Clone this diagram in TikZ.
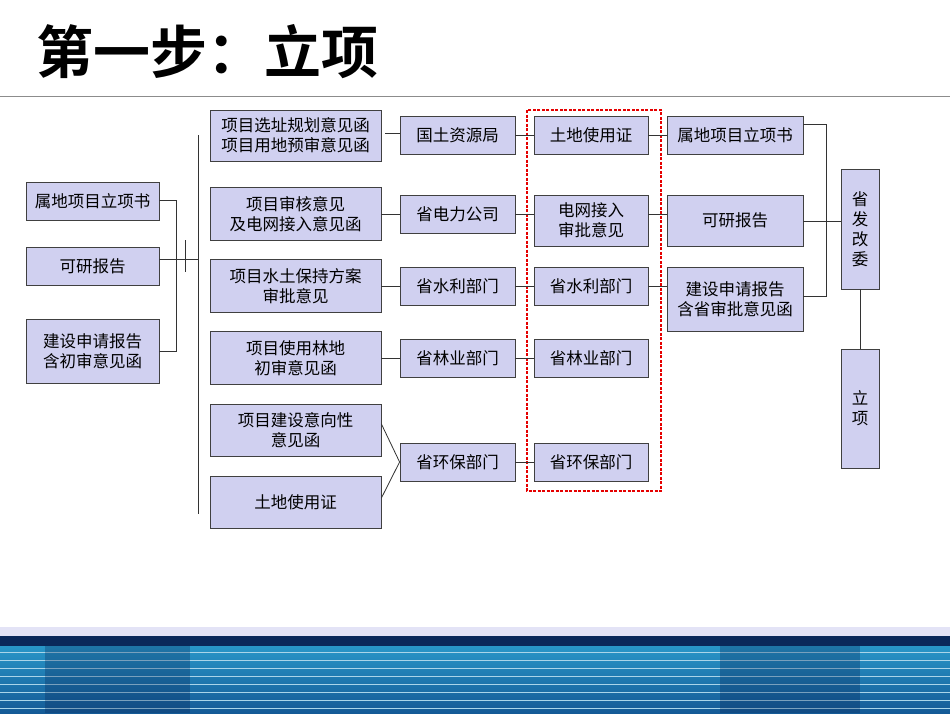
\documentclass[tikz,border=0pt]{standalone}
\usepackage{fontspec}
\setmainfont{Noto Sans CJK SC}
\newfontfamily\titlefont{Noto Sans CJK SC Bold}
\begin{document}
\begin{tikzpicture}[x=1pt,y=-1pt,
  box/.style={draw=black!75,fill=boxc,line width=0.8pt,inner sep=0pt,align=center,font=\fontsize{16.5}{20}\selectfont},
  ln/.style={draw=black!80,line width=0.8pt}]
\definecolor{boxc}{RGB}{208,208,240}
\definecolor{bandA}{RGB}{10,40,90}
\definecolor{bandB}{RGB}{40,150,200}
\definecolor{bandC}{RGB}{20,90,150}
\useasboundingbox (0,0) rectangle (950,713);
\fill[white] (0,0) rectangle (950,713);
% bottom band
\fill[boxc!60] (0,627) rectangle (950,636);
\fill[bandA] (0,636) rectangle (950,646);
\shade[top color=bandB,bottom color=bandC] (0,646) rectangle (950,713);
\foreach \yy in {652,660,668,676,684,692,700,708}{\draw[white!60!bandB,line width=0.6pt] (0,\yy) -- (950,\yy);}
\fill[bandA,opacity=0.3] (45,646) rectangle (190,713);
\fill[bandA,opacity=0.3] (720,646) rectangle (860,713);
% title
\node[anchor=west,font=\titlefont\fontsize{57}{62}\selectfont,inner sep=0pt] (title) at (36,52) {第一步：立项};
\draw[black!45,line width=0.6pt] (0,96) coordinate (hl) -- (950,96) coordinate (hr);
% left column
\node[box,minimum width=133,minimum height=38] (a1) at (92.5,201) {属地项目立项书};
\node[box,minimum width=133,minimum height=38] (a2) at (92.5,266) {可研报告};
\node[box,minimum width=133,minimum height=64] (a3) at (92.5,351) {建设申请报告\\含初审意见函};
% column B
\node[box,minimum width=171,minimum height=51] (b1) at (295.5,135.5) {项目选址规划意见函\\项目用地预审意见函};
\node[box,minimum width=171,minimum height=53] (b2) at (295.5,214) {项目审核意见\\及电网接入意见函};
\node[box,minimum width=171,minimum height=53] (b3) at (295.5,286) {项目水土保持方案\\审批意见};
\node[box,minimum width=171,minimum height=53] (b4) at (295.5,358) {项目使用林地\\初审意见函};
\node[box,minimum width=171,minimum height=52] (b5) at (295.5,430) {项目建设意向性\\意见函};
\node[box,minimum width=171,minimum height=52] (b6) at (295.5,502) {土地使用证};
% column C
\node[box,minimum width=115,minimum height=38] (c1) at (457.5,135) {国土资源局};
\node[box,minimum width=115,minimum height=38] (c2) at (457.5,214) {省电力公司};
\node[box,minimum width=115,minimum height=38] (c3) at (457.5,286) {省水利部门};
\node[box,minimum width=115,minimum height=38] (c4) at (457.5,358) {省林业部门};
\node[box,minimum width=115,minimum height=38] (c5) at (457.5,462) {省环保部门};
% column D
\node[box,minimum width=114,minimum height=38] (d1) at (591,135) {土地使用证};
\node[box,minimum width=114,minimum height=51] (d2) at (591,220.5) {电网接入\\审批意见};
\node[box,minimum width=114,minimum height=38] (d3) at (591,286) {省水利部门};
\node[box,minimum width=114,minimum height=38] (d4) at (591,358) {省林业部门};
\node[box,minimum width=114,minimum height=38] (d5) at (591,462) {省环保部门};
\draw[red!90!black,dash pattern=on 3pt off 1.5pt,line width=2pt] (527,110) rectangle (661,491);
% column E
\node[box,minimum width=136,minimum height=38] (e1) at (735,135) {属地项目立项书};
\node[box,minimum width=136,minimum height=51] (e2) at (735,220.5) {可研报告};
\node[box,minimum width=136,minimum height=64] (e3) at (735,299) {建设申请报告\\含省审批意见函};
% F, G
\node[box,minimum width=38,minimum height=120] (f) at (860,229) {省\\发\\改\\委};
\node[box,minimum width=38,minimum height=119] (g) at (860,408.5) {立\\项};
% left brackets
\coordinate (lv1) at (176,200);
\coordinate (lv2) at (176,351);
\draw[ln] (a1.east |- lv1) -- (lv1) -- (lv2) -- (a3.east |- lv2);
\coordinate (bigt) at (198,135);
\coordinate (bigb) at (198,514);
\draw[ln] (bigt) -- (bigb);
\draw[ln] (a2.east |- 0,259) -- (198,259);
\draw[ln] (185,240) -- (185,272);
% B to C
\draw[ln] (385,133) -- (c1.west |- 0,133);
\draw[ln] (b2.east) -- (c2.west);
\draw[ln] (b3.east) -- (c3.west);
\draw[ln] (b4.east) -- (c4.west);
\draw[ln] (b5.east |- 0,424) -- (c5.west);
\draw[ln] (b6.east |- 0,498) -- (c5.west);
% C to D
\foreach \i in {1,...,5}{\draw[ln] (c\i.east) -- (d\i.west |- c\i.east);}
% D to E
\draw[ln] (d1.east) -- (e1.west |- d1.east);
\draw[ln] (d2.east |- 0,214) -- (e2.west |- 0,214);
\draw[ln] (d3.east) -- (e3.west |- d3.east);
% right bracket
\draw[ln] (e1.east |- 0,124) -- (826,124) -- (826,296) -- (e3.east |- 0,296);
\draw[ln] (e2.east |- 0,221) -- (f.west |- 0,221);
\draw[ln] (f.south) -- (g.north);
\end{tikzpicture}
\end{document}
